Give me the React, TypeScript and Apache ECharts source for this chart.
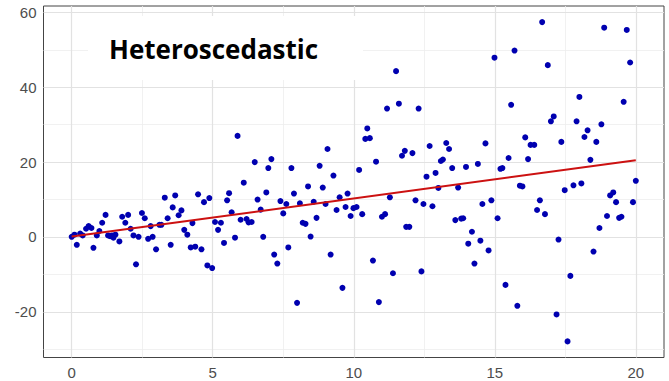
import React, { useEffect, useRef } from "react";
import * as echarts from "echarts";

const xVals = [
  0.0, 0.1, 0.18, 0.3, 0.39, 0.51, 0.6, 0.7, 0.77, 0.89, 0.98, 1.08, 1.2, 1.29, 1.36, 1.43, 1.48, 1.55, 1.69, 1.79,
  1.9, 2.0, 2.09, 2.19, 2.28, 2.37, 2.49, 2.59, 2.71, 2.8, 2.87, 2.99, 3.11, 3.18, 3.3, 3.4, 3.51, 3.58, 3.67, 3.79,
  3.89, 3.99, 4.1, 4.22, 4.28, 4.38, 4.48, 4.6, 4.69, 4.81, 4.88, 4.98, 5.08, 5.19, 5.29, 5.4, 5.51, 5.58, 5.67, 5.79,
  5.88, 5.99, 6.1, 6.2, 6.27, 6.38, 6.49, 6.59, 6.7, 6.79, 6.9, 6.97, 7.08, 7.18, 7.29, 7.4, 7.5, 7.61, 7.68, 7.79,
  7.88, 7.99, 8.09, 8.19, 8.29, 8.38, 8.47, 8.58, 8.68, 8.79, 8.9, 9.0, 9.07, 9.18, 9.28, 9.39, 9.5, 9.6, 9.71, 9.78,
  9.89, 9.99, 10.1, 10.19, 10.3, 10.41, 10.48, 10.57, 10.68, 10.79, 10.89, 11.0, 11.11, 11.18, 11.28, 11.39, 11.5, 11.6, 11.71, 11.81,
  11.86, 11.97, 12.08, 12.19, 12.3, 12.4, 12.47, 12.58, 12.69, 12.79, 12.9, 13.0, 13.09, 13.16, 13.28, 13.38, 13.49, 13.6, 13.7, 13.81,
  13.88, 13.98, 14.06, 14.19, 14.28, 14.4, 14.49, 14.56, 14.67, 14.78, 14.88, 14.99, 15.1, 15.2, 15.27, 15.38, 15.49, 15.58, 15.7, 15.8,
  15.89, 15.98, 16.08, 16.18, 16.27, 16.4, 16.5, 16.6, 16.68, 16.78, 16.88, 16.99, 17.09, 17.19, 17.26, 17.36, 17.48, 17.58, 17.68, 17.79,
  17.9, 18.0, 18.07, 18.18, 18.29, 18.39, 18.5, 18.6, 18.71, 18.78, 18.88, 18.98, 19.09, 19.2, 19.3, 19.41, 19.49, 19.57, 19.68, 19.8,
  19.9, 20.0,
];

const yVals = [
  0.05, 0.6, -2.1, 0.9, 0.4, 2.2, 2.9, 2.4, -2.9, 0.4, 1.6, 3.8, 5.9, 0.4, 0.2, 0.4, -0.2, 0.6, -1.2, 5.4,
  3.8, 5.9, 2.2, 0.4, -7.3, 0.05, 6.4, 5.0, -0.5, 2.9, 0.05, -3.3, 3.25, 3.25, 10.5, 5.0, -2.1, 7.9, 11.1, 5.8,
  7.1, 1.9, 0.6, -2.8, 3.7, -2.6, 11.4, -3.3, 9.3, -7.6, 10.4, -8.3, 4.0, 1.9, 3.8, -1.6, 9.8, 11.7, 6.6, -0.2,
  27.0, 4.6, 14.5, 4.8, 3.9, 4.0, 20.0, 10.0, 7.3, 0.05, 11.9, 18.4, 20.8, -4.7, -7.1, 9.6, 6.3, 8.8, -2.8, 18.4,
  11.6, -17.6, 9.0, 3.8, 3.5, 13.5, 0.1, 9.4, 5.1, 19.0, 13.2, 8.8, 23.5, -4.7, 16.4, 7.2, 10.6, -13.6, 8.0, 11.6,
  5.6, 7.7, 8.0, 17.9, 6.1, 26.2, 29.0, 26.4, -6.3, 20.1, -17.4, 5.4, 6.1, 34.3, 10.6, -9.7, 44.3, 35.6, 21.7, 23.0,
  2.7, 2.7, 22.4, 9.8, 34.3, -9.2, 8.8, 16.1, 24.3, 8.2, 17.1, 13.1, 20.3, 20.7, 25.1, 23.5, 18.4, 4.5, 13.2, 4.9,
  5.0, 18.7, -1.8, 1.4, -7.1, 19.5, -1.0, 8.8, 25.0, -3.6, 9.8, 47.9, 5.0, 18.2, 18.4, -12.8, 21.1, 35.3, 49.8, -18.4,
  13.7, 13.5, 26.6, 20.8, 24.6, 24.6, 7.2, 9.8, 57.4, 6.1, 45.9, 30.9, 32.2, -20.7, -0.7, 25.4, 12.5, -27.9, -10.4, 13.8,
  30.9, 37.4, 14.3, 26.7, 28.5, 20.6, -3.9, 25.4, 2.4, 30.1, 55.9, 5.6, 11.1, 11.9, 9.3, 5.1, 5.4, 36.1, 55.3, 46.6,
  9.3, 15.0,
];

const fitX = [0, 20];
const fitY = [0.1, 20.5];

const xTicks = [0, 5, 10, 15, 20];
const xMinor = [2.5, 7.5, 12.5, 17.5];
const yTicks = [-20, 0, 20, 40, 60];
const yMinor = [-30, -10, 10, 30, 50];

const titleText = "Heteroscedastic";

export default function App() {
  const ref = useRef<HTMLDivElement>(null);
  useEffect(() => {
    document.body.style.margin = "0";
    const chart = echarts.init(ref.current!, null, { renderer: "svg" });
    const minorStyle = { color: "#eeeeee", width: 0.8, type: "solid" };
    const majorStyle = { color: "#e2e2e2", width: 1.2, type: "solid" };
    const gridLines = [
      ...yMinor.map((v) => ({ yAxis: v, lineStyle: minorStyle })),
      ...xMinor.map((v) => ({ xAxis: v, lineStyle: minorStyle })),
      ...yTicks.map((v) => ({ yAxis: v, lineStyle: majorStyle })),
      ...xTicks.map((v) => ({ xAxis: v, lineStyle: majorStyle })),
    ];
    const labelFont = {
      color: "#4d4d4d",
      fontSize: 15,
      fontFamily: "Liberation Sans, Arial, sans-serif",
      margin: 7,
    };
    chart.setOption({
      animation: false,
      grid: {
        left: 43.5,
        right: 5,
        top: 6,
        bottom: 23.5,
        show: true,
        borderColor: "#444",
        borderWidth: 1,
        backgroundColor: "#fff",
      },
      xAxis: {
        type: "value",
        min: -1,
        max: 21,
        splitLine: { show: false },
        axisLine: { show: false },
        axisTick: { show: true, customValues: xTicks, length: 4, lineStyle: { color: "#333" } },
        axisLabel: { ...labelFont, customValues: xTicks },
      },
      yAxis: {
        type: "value",
        min: -32.2,
        max: 61.7,
        splitLine: { show: false },
        axisLine: { show: false },
        axisTick: { show: true, customValues: yTicks, length: 4, lineStyle: { color: "#333" } },
        axisLabel: { ...labelFont, customValues: yTicks },
      },
      graphic: [
        {
          type: "rect",
          shape: { x: 88, y: 16, width: 275, height: 64 },
          style: { fill: "#fff" },
          z: 5,
        },
        {
          type: "text",
          x: 109,
          y: 49,
          style: {
            text: titleText,
            fill: "#000",
            font: "bold 26px 'Open Sans', sans-serif",
            verticalAlign: "middle",
            align: "left",
          },
          z: 6,
        },
      ],
      series: [
        {
          type: "scatter",
          data: [],
          z: 1,
          silent: true,
          markLine: {
            z: 1,
            silent: true,
            symbol: "none",
            label: { show: false },
            animation: false,
            data: gridLines,
          },
        },
        {
          type: "scatter",
          data: xVals.map((x, i) => [x, yVals[i]]),
          symbolSize: 6,
          itemStyle: { color: "#0000b0", opacity: 1 },
          z: 3,
        },
        {
          type: "line",
          data: fitX.map((x, i) => [x, fitY[i]]),
          showSymbol: false,
          lineStyle: { color: "#cc1111", width: 2 },
          z: 4,
        },
      ],
    });
    return () => chart.dispose();
  }, []);
  return <div ref={ref} style={{ width: 669, height: 381 }} />;
}
